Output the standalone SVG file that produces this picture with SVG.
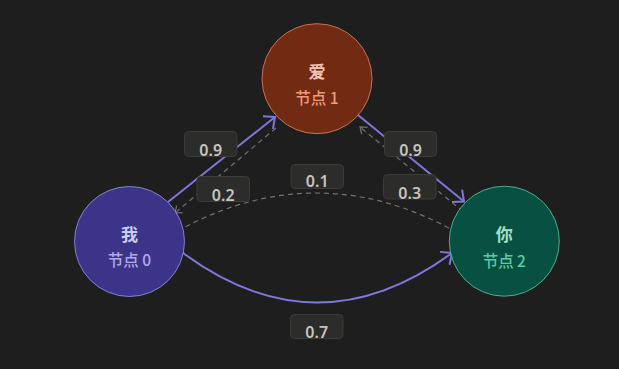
<svg xmlns="http://www.w3.org/2000/svg" width="619" height="369" viewBox="0 0 619 369">
<style>
.solid{fill:none;stroke:#7F77DD;stroke-width:2}
.dash{fill:none;stroke:#747370;stroke-width:1.2;stroke-dasharray:5 4}
.lbl rect{fill:#2c2c2b;stroke:#3b3b39;stroke-width:1}
.lbl text{font-family:"Noto Sans","Noto Sans CJK SC",sans-serif;font-size:16px;font-weight:600;fill:#c6c4bb;text-anchor:middle}
.t1{font-family:"Noto Sans CJK SC","Noto Sans",sans-serif;font-size:17px;font-weight:bold;text-anchor:middle}
.t2{font-family:"Noto Sans CJK SC","Noto Sans",sans-serif;font-size:15.5px;font-weight:500;text-anchor:middle}
</style>
<defs>
<marker id="ap" viewBox="0 0 12 20" refX="10" refY="10" markerWidth="12" markerHeight="20" markerUnits="userSpaceOnUse" orient="auto">
<path d="M1,2 L10,10 L1,18" fill="none" stroke="#7F77DD" stroke-width="2"/>
</marker>
<marker id="ag" viewBox="0 0 8 12" refX="7" refY="6" markerWidth="8" markerHeight="12" markerUnits="userSpaceOnUse" orient="auto">
<path d="M1,1.5 L7,6 L1,10.5" fill="none" stroke="#747370" stroke-width="1.2"/>
</marker>
</defs>
<rect width="619" height="369" fill="#1e1e1e"/>
<g id="connectors">
<path class="solid" d="M168,202 L275,117" marker-end="url(#ap)"/>
<path class="dash" d="M276,128 L175,213" marker-end="url(#ag)"/>
<path class="solid" d="M358,115 L464,201.5" marker-end="url(#ap)"/>
<path class="dash" d="M463,211.5 L360,127" marker-end="url(#ag)"/>
<path class="dash" d="M449,228 Q316,158 183,228"/>
<path class="solid" d="M183,253 Q317,352 452,253" marker-end="url(#ap)"/>
</g>
<g id="node0">
<circle cx="129.5" cy="241.5" r="55" fill="#3C3489" stroke="#9d95e6" stroke-width="0.8"/>
<text class="t1" x="129.5" y="240.5" fill="#CECBF6">我</text>
<text class="t2" x="129.5" y="266" fill="#AFA9EC">节点 0</text>
</g>
<g id="node1">
<circle cx="317" cy="78.7" r="55" fill="#712B13" stroke="#e0876a" stroke-width="0.8"/>
<text class="t1" x="317" y="77.5" fill="#F5C4B3">爱</text>
<text class="t2" x="317" y="104" fill="#F0997B">节点 1</text>
</g>
<g id="node2">
<circle cx="504.3" cy="241.2" r="55" fill="#085041" stroke="#5DCAA5" stroke-width="0.8"/>
<text class="t1" x="504.3" y="240.5" fill="#9FE1CB">你</text>
<text class="t2" x="504.3" y="267" fill="#5DCAA5">节点 2</text>
</g>
<g id="labels">
<g class="lbl"><rect x="184.5" y="131.5" width="52.5" height="25" rx="4"/><text x="210.7" y="155.5">0.9</text></g>
<g class="lbl"><rect x="197" y="176.5" width="52.5" height="25" rx="4"/><text x="223.2" y="200.5">0.2</text></g>
<g class="lbl"><rect x="291" y="164.5" width="52.5" height="24" rx="4"/><text x="317.2" y="187">0.1</text></g>
<g class="lbl"><rect x="384.5" y="131.5" width="52" height="25" rx="4"/><text x="410.5" y="155.5">0.9</text></g>
<g class="lbl"><rect x="383.5" y="174.5" width="52.5" height="24.5" rx="4"/><text x="409.7" y="198.5">0.3</text></g>
<g class="lbl"><rect x="290.5" y="314.5" width="52.5" height="24" rx="4"/><text x="316.7" y="337.5">0.7</text></g>
</g>
</svg>
